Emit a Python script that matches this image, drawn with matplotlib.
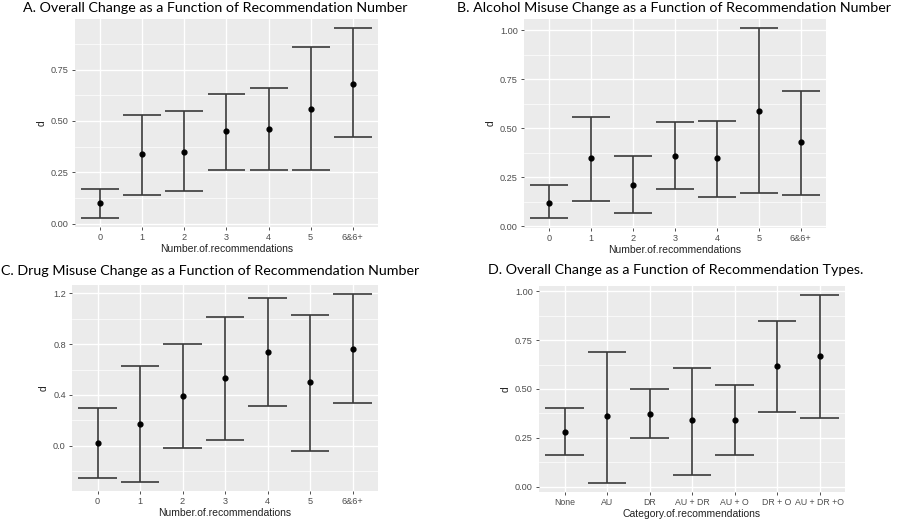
import numpy as np
import matplotlib
matplotlib.use("Agg")
import matplotlib.pyplot as plt
from matplotlib.ticker import MultipleLocator

# panel A: overall change by number of recommendations
num_labels = ["0", "1", "2", "3", "4", "5", "6&6+"]
overall_d = [0.10, 0.34, 0.35, 0.45, 0.46, 0.56, 0.68]
overall_lo = [0.03, 0.14, 0.16, 0.26, 0.26, 0.26, 0.42]
overall_hi = [0.17, 0.53, 0.55, 0.63, 0.66, 0.86, 0.95]

# panel B: alcohol misuse change
alcohol_d = [0.12, 0.35, 0.21, 0.36, 0.35, 0.59, 0.43]
alcohol_lo = [0.04, 0.13, 0.07, 0.19, 0.15, 0.17, 0.16]
alcohol_hi = [0.21, 0.56, 0.36, 0.53, 0.54, 1.01, 0.69]

# panel C: drug misuse change
drug_d = [0.02, 0.17, 0.39, 0.53, 0.74, 0.50, 0.76]
drug_lo = [-0.25, -0.28, -0.015, 0.05, 0.31, -0.04, 0.34]
drug_hi = [0.30, 0.63, 0.80, 1.01, 1.16, 1.03, 1.19]

# panel D: overall change by recommendation type
type_labels = ["None", "AU", "DR", "AU + DR", "AU + O", "DR + O", "AU + DR +O"]
type_d = [0.28, 0.36, 0.37, 0.34, 0.34, 0.62, 0.67]
type_lo = [0.16, 0.02, 0.25, 0.06, 0.16, 0.38, 0.35]
type_hi = [0.40, 0.69, 0.50, 0.61, 0.52, 0.85, 0.98]

BG = "#EBEBEB"
LINE = "#3A3A3A"
TICK_TXT = "#4D4D4D"
TITLE_FONT = ["Lato", "DejaVu Sans"]


def draw_panel(ax, labels, d, lo, hi, xlabel, step):
    x = np.arange(len(labels))
    ax.set_facecolor(BG)
    ax.vlines(x, lo, hi, color=LINE, lw=1.2, zorder=3)
    ax.hlines(lo, x - 0.45, x + 0.45, color=LINE, lw=1.2, zorder=3)
    ax.hlines(hi, x - 0.45, x + 0.45, color=LINE, lw=1.2, zorder=3)
    ax.scatter(x, d, s=12, color="black", zorder=4)

    # ggplot style expansion
    ymin, ymax = min(lo), max(hi)
    pad = (ymax - ymin) * 0.05
    ax.set_ylim(ymin - pad, ymax + pad)
    ax.set_xlim(-0.6, len(labels) - 0.4)

    ax.set_xticks(x)
    ax.set_xticklabels(labels)
    ax.yaxis.set_major_locator(MultipleLocator(step))
    ax.yaxis.set_minor_locator(MultipleLocator(step / 2))
    if step < 0.3:
        ax.yaxis.set_major_formatter(lambda v, p: f"{v:.2f}")
    else:
        ax.yaxis.set_major_formatter(lambda v, p: f"{v:.1f}")

    ax.grid(which="major", color="white", lw=1.0)
    ax.grid(which="minor", axis="y", color="white", lw=0.5)
    ax.set_axisbelow(True)
    for sp in ax.spines.values():
        sp.set_visible(False)
    ax.tick_params(which="major", length=2.5, width=0.6, color="#333333",
                   labelsize=6.6, labelcolor=TICK_TXT, pad=2)
    ax.tick_params(which="minor", length=0)
    ax.set_xlabel(xlabel, fontsize=7.5, color="#222222", labelpad=1)
    ax.set_ylabel("d", fontsize=7.5, color="#222222", labelpad=3)


plt.rcParams["font.family"] = ["Liberation Sans", "DejaVu Sans"]
fig = plt.figure(figsize=(9, 5.21), dpi=100)

ax_a = fig.add_axes([0.0833, 0.5643, 0.3367, 0.3992])
ax_b = fig.add_axes([0.5822, 0.5624, 0.3356, 0.4012])
ax_c = fig.add_axes([0.0800, 0.0576, 0.3400, 0.3954])
ax_d = fig.add_axes([0.5989, 0.0557, 0.3400, 0.3954])

draw_panel(ax_a, num_labels, overall_d, overall_lo, overall_hi,
           "Number.of.recommendations", 0.25)
draw_panel(ax_b, num_labels, alcohol_d, alcohol_lo, alcohol_hi,
           "Number.of.recommendations", 0.25)
draw_panel(ax_c, num_labels, drug_d, drug_lo, drug_hi,
           "Number.of.recommendations", 0.4)
draw_panel(ax_d, type_labels, type_d, type_lo, type_hi,
           "Category.of.recommendations", 0.25)
# longer category names, keep them from running together
ax_d.tick_params(axis="x", labelsize=6.3)

title_kw = dict(family=TITLE_FONT, fontsize=10.3, va="center", ha="left")
fig.text(23 / 900, 1 - 8 / 521,
         "A. Overall Change as a Function of Recommendation Number", **title_kw)
fig.text(457 / 900, 1 - 8 / 521,
         "B. Alcohol Misuse Change as a Function of Recommendation Number", **title_kw)
fig.text(1 / 900, 1 - 271 / 521,
         "C. Drug Misuse Change as a Function of Recommendation Number", **title_kw)
fig.text(488 / 900, 1 - 270 / 521,
         "D. Overall Change as a Function of Recommendation Types.", **title_kw)

fig.savefig("out.png", dpi=100)
